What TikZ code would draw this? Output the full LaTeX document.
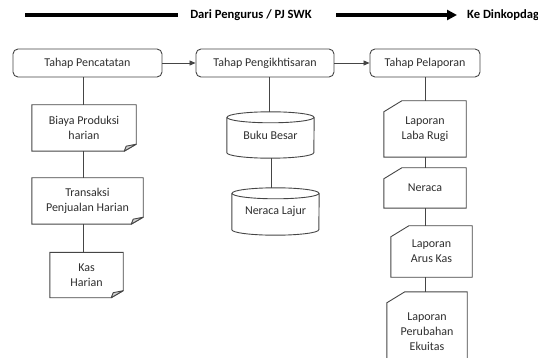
\documentclass[tikz,border=0pt]{standalone}
\usepackage{fontspec}
\setmainfont{Carlito}
\usetikzlibrary{arrows.meta}
\definecolor{bord}{HTML}{454545}
\definecolor{txt}{HTML}{2E2E2E}
\definecolor{foldc}{HTML}{D0D0D0}
\newcommand\docshape[1]{%
  \draw[bx] (#1.north west) -- (#1.north east) -- ([yshift=7pt]#1.south east) -- ([xshift=-12pt]#1.south east) -- (#1.south west) -- cycle;
  \draw[bx, fill=foldc, line join=round] ([xshift=-12pt]#1.south east) -- ([yshift=7pt]#1.south east) -- ([xshift=-10pt,yshift=5pt]#1.south east) -- cycle;}
\newcommand\cylshape[2]{%
  \draw[bx] ([yshift=-5.5pt]#1.north) ellipse [x radius=#2pt, y radius=5.5pt];
  \draw[bx] ([yshift=-5.5pt]#1.north west) -- ([yshift=5.5pt]#1.south west) arc[start angle=180, end angle=360, x radius=#2pt, y radius=5.5pt] -- ([yshift=-5.5pt]#1.north east);}
\newcommand\cardshape[1]{%
  \draw[bx] ([yshift=-11pt]#1.north west) -- ([xshift=18pt]#1.north west) -- (#1.north east) -- (#1.south east) -- (#1.south west) -- cycle;}
\begin{document}
\begin{tikzpicture}[x=1pt,y=-1pt,
  every node/.style={font=\fontsize{12}{15}\selectfont, text=txt},
  bx/.style={draw=bord, line width=0.9pt},
  tahap/.style={bx, rounded corners=5pt, minimum height=28pt, inner sep=0},
  plain/.style={inner sep=0, align=center},
  conn/.style={draw=bord, line width=0.8pt},
  thickline/.style={draw=black, line width=3.2pt},
  toptext/.style={font=\fontsize{12.6}{14}\selectfont\bfseries, text=black, inner sep=0},
  ]
\useasboundingbox (0,0) rectangle (538,358);
\clip (0,0) rectangle (538,358);
% top legend
\coordinate (a1) at (25,15);
\coordinate (a2) at (178,15);
\coordinate (b1) at (336,15);
\node[toptext] (dari) at (251,15) {Dari Pengurus / PJ SWK};
\node[toptext, anchor=west] (ke) at (467,15) {Ke Dinkopdag};
\draw[thickline] (a1) -- (a2);
\draw[thickline, -{Triangle[length=10pt,width=10pt]}, shorten >=10pt] (b1) -- (ke.west);
% stage boxes
\node[tahap, minimum width=149pt] (t1) at (87.5,63) {Tahap Pencatatan};
\node[tahap, minimum width=138pt] (t2) at (265,63) {Tahap Pengikhtisaran};
\node[tahap, minimum width=110pt] (t3) at (425,63) {Tahap Pelaporan};
\draw[conn, -{Triangle[length=6pt,width=5pt]}] (t1) -- (t2);
\draw[conn, -{Triangle[length=6pt,width=5pt]}] (t2) -- (t3);
\coordinate (c1) at ([xshift=-4.5pt]t1.south);
\coordinate (c2) at ([xshift=4pt]t2.south);
\coordinate (c3) at (t3.south);
% left column
\node[plain, minimum width=104pt, minimum height=46pt] (biaya) at (84,128) {Biaya Produksi\\harian};
\node[plain, minimum width=111pt, minimum height=46pt] (trans) at (87.5,201) {Transaksi\\Penjualan Harian};
\node[plain, minimum width=73pt, minimum height=45pt] (kas) at (86.5,275) {Kas\\Harian};
\docshape{biaya}
\docshape{trans}
\docshape{kas}
\draw[conn] (c1) -- (c1 |- biaya.north);
\draw[conn] (c1 |- biaya.south) -- (c1 |- trans.north);
\draw[conn] (c1 |- trans.south) -- (c1 |- kas.north);
% middle column
\node[plain, minimum width=87pt, minimum height=46pt] (buku) at (270.5,135) {Buku Besar};
\node[plain, minimum width=87pt, minimum height=47pt] (lajur) at (275.5,211.5) {Neraca Lajur};
\cylshape{buku}{43.5}
\cylshape{lajur}{43.5}
\draw[conn] (c2) -- (c2 |- buku.north);
\draw[conn] ([xshift=2pt]c2 |- buku.south) -- ([xshift=2pt]c2 |- lajur.north);
% right column
\node[plain, minimum width=82pt, minimum height=56pt] (laba) at (425,129) {Laporan\\Laba Rugi};
\node[plain, minimum width=82pt, minimum height=40pt] (ner) at (425,188) {Neraca};
\node[plain, minimum width=81pt, minimum height=51pt] (arus) at (431.5,251.5) {Laporan\\Arus Kas};
\node[plain, minimum width=80pt, minimum height=80pt] (ekui) at (427,332) {Laporan\\Perubahan\\Ekuitas};
\cardshape{laba}
\cardshape{ner}
\cardshape{arus}
\cardshape{ekui}
\draw[conn] (c3) -- (c3 |- laba.north);
\draw[conn] (c3 |- laba.south) -- (c3 |- ner.north);
\draw[conn] (c3 |- ner.south) -- (c3 |- arus.north);
\draw[conn] (c3 |- arus.south) -- (c3 |- ekui.north);
\end{tikzpicture}
\end{document}
